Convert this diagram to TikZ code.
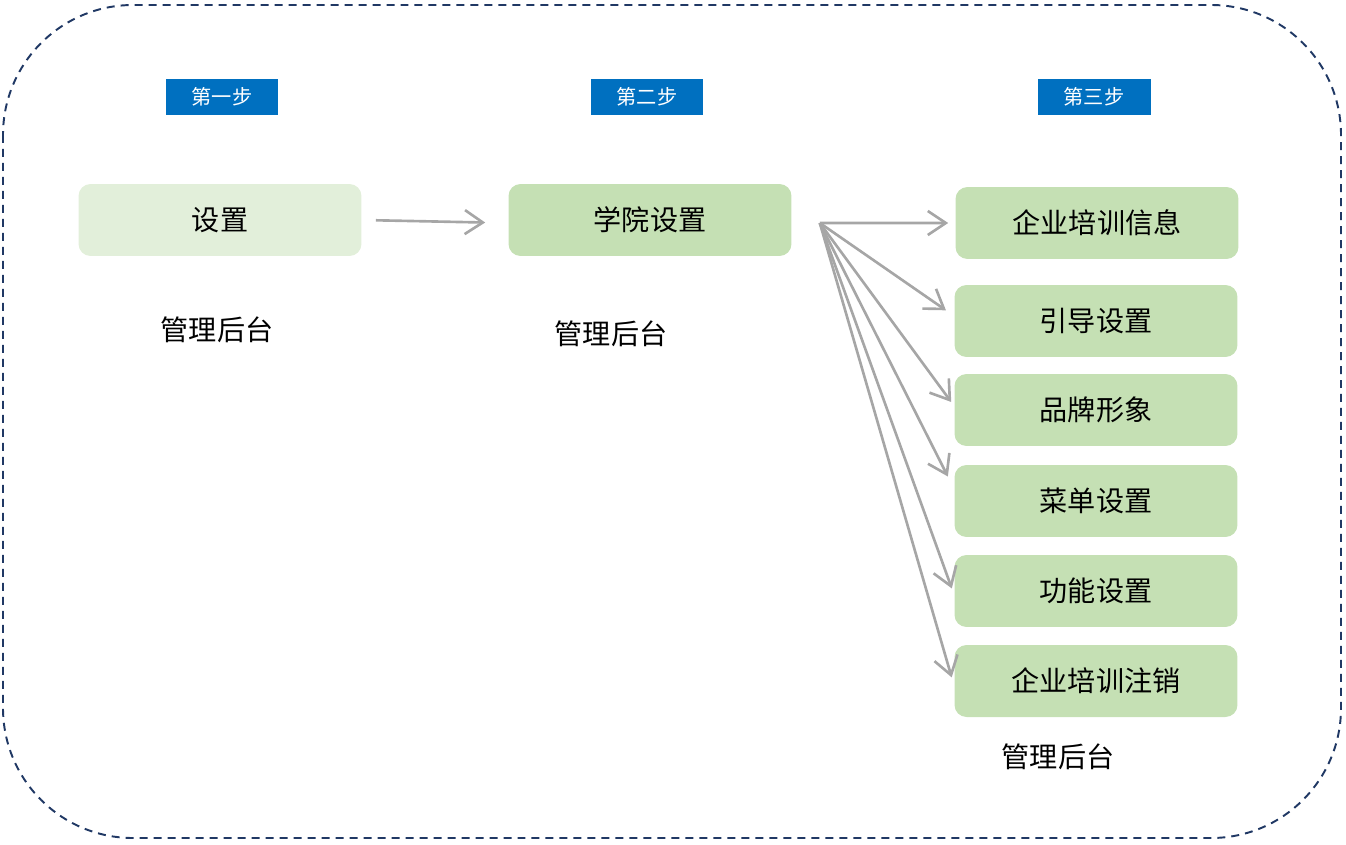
\documentclass[tikz,border=0pt]{standalone}
\usepackage{fontspec}
\newfontfamily\cjk{Noto Sans CJK SC}
\usetikzlibrary{arrows.meta}

\definecolor{framecol}{HTML}{203864}
\definecolor{stepblue}{HTML}{0070C0}
\definecolor{palegreen}{HTML}{E2EFDA}
\definecolor{boxgreen}{HTML}{C5E0B4}
\definecolor{arrowgray}{HTML}{A6A6A6}

\begin{document}
\begin{tikzpicture}[
    x=0.02cm, y=-0.02cm,
    steptag/.style={fill=stepblue, text=white, font=\cjk\fontsize{11.5}{13}\selectfont,
                    minimum width=2.26cm, minimum height=0.72cm, inner sep=0pt},
    block/.style={fill=boxgreen, rounded corners=0.24cm,
                  minimum width=5.66cm, minimum height=1.44cm, inner sep=0pt,
                  font=\cjk\fontsize{16}{19}\selectfont},
    caption/.style={font=\cjk\fontsize{16}{19}\selectfont},
    link/.style={draw=arrowgray, line width=1.5pt,
                 -{Straight Barb[length=3.6mm,width=4.8mm,line width=1.5pt]}}
]

\useasboundingbox (0,0) rectangle (1346,845);

% horizontal positions
\def\colA{220}
\def\colB{650}
\def\colC{1096}

% --- FRAME ---
\draw[framecol, line width=1.1pt, rounded corners=2.6cm,
      dash pattern=on 0.16cm off 0.12cm]
    (3,5) rectangle (1341,838);

% --- STEP TAGS ---
\node[steptag] (stepone)   at (222,97)  {第一步};
\node[steptag] (steptwo)   at (647,97)  {第二步};
\node[steptag] (stepthree) at (1094,97) {第三步};

% --- FIRST STEP ---
\node[block, fill=palegreen] (shezhi) at (\colA,220) {设置};
\node[caption] (capone) at (217,330) {管理后台};

% --- SECOND STEP ---
\node[block] (xueyuan) at (\colB,220) {学院设置};
\node[caption] (captwo) at (611,334) {管理后台};

% --- THIRD STEP ---
\node[block] (qiyexinxi) at (1097,223) {企业培训信息};
\node[block] (yindao)    at (\colC,321) {引导设置};
\node[block] (pinpai)    at (\colC,410) {品牌形象};
\node[block] (caidan)    at (\colC,501) {菜单设置};
\node[block] (gongneng)  at (\colC,591) {功能设置};
\node[block] (zhuxiao)   at (\colC,681) {企业培训注销};
\node[caption] (capthree) at (1058,757) {管理后台};

% --- ARROWS ---
\draw[link, shorten <=0.28cm, shorten >=0.46cm] (shezhi.east) -- ([yshift=-0.06cm]xueyuan.west);

\coordinate (fan) at ([xshift=0.56cm, yshift=-0.06cm]xueyuan.east);
\draw[link, shorten >=0.14cm] (fan) -- (qiyexinxi.west);
\draw[link, shorten >=0.2cm]  (fan) -- ([yshift=0.1cm]yindao.west);
\draw[link, shorten >=0.1cm]  (fan) -- ([yshift=0.08cm]pinpai.west);
\draw[link, shorten >=0.28cm] (fan) -- ([yshift=0.24cm]caidan.west);
\draw[link, shorten >=0.14cm] (fan) -- ([yshift=-0.08cm]gongneng.west);
\draw[link, shorten >=0.18cm] (fan) -- ([yshift=-0.1cm]zhuxiao.west);

\end{tikzpicture}
\end{document}
